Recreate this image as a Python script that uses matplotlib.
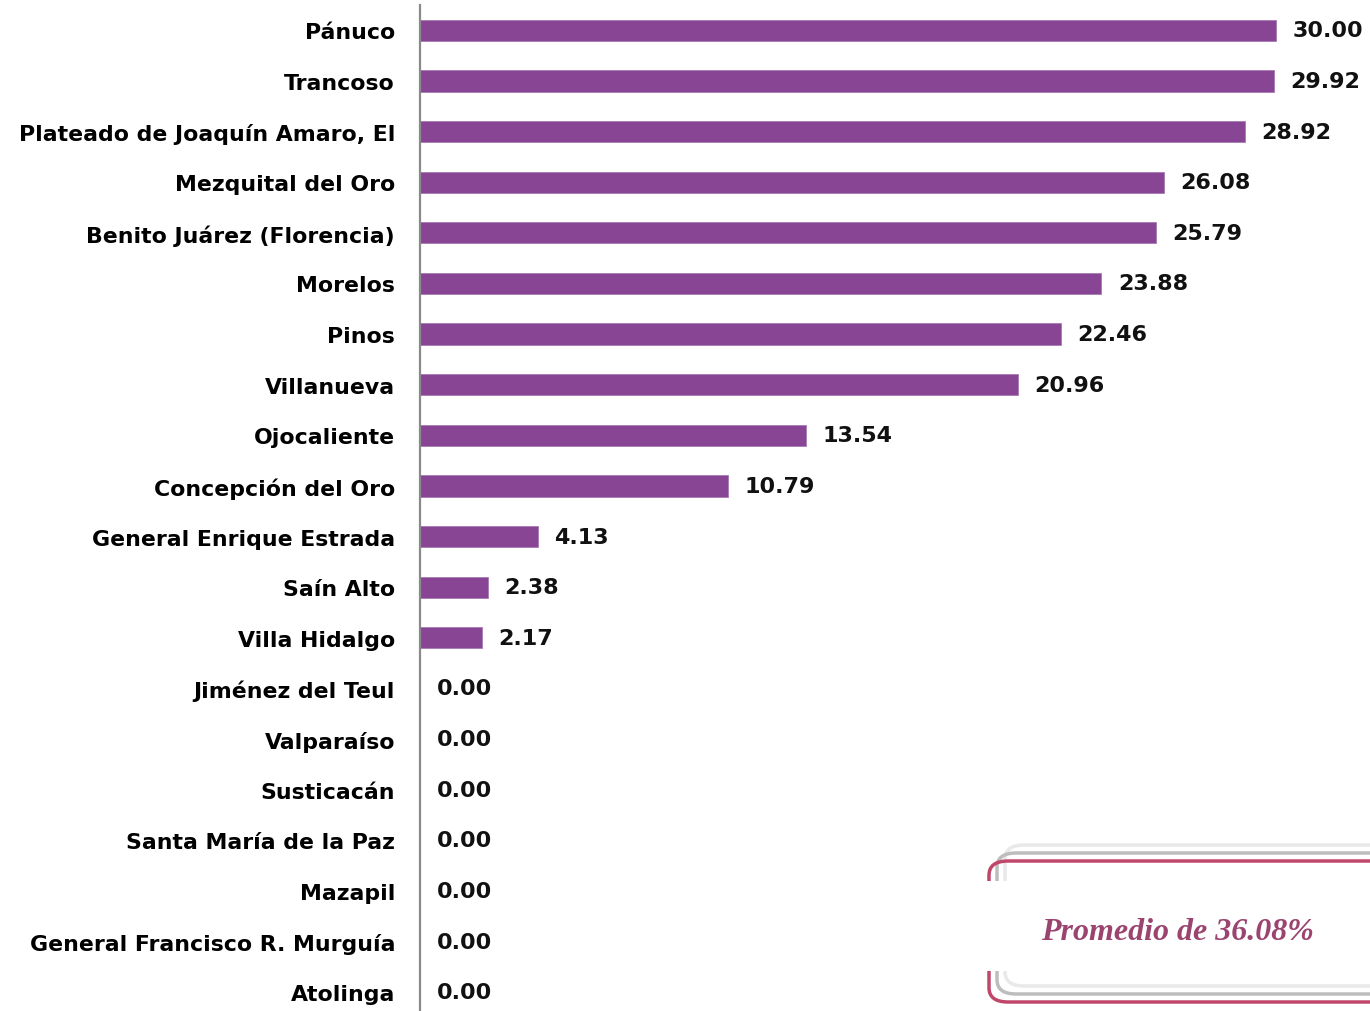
import matplotlib
matplotlib.use("Agg")
import matplotlib.pyplot as plt
from matplotlib.patches import FancyBboxPatch, Rectangle

# datos
municipios = ["Pánuco", "Trancoso", "Plateado de Joaquín Amaro, El", "Mezquital del Oro",
              "Benito Juárez (Florencia)", "Morelos", "Pinos", "Villanueva", "Ojocaliente",
              "Concepción del Oro", "General Enrique Estrada", "Saín Alto", "Villa Hidalgo",
              "Jiménez del Teul", "Valparaíso", "Susticacán", "Santa María de la Paz",
              "Mazapil", "General Francisco R. Murguía", "Atolinga"]
valores = [30.00, 29.92, 28.92, 26.08, 25.79, 23.88, 22.46, 20.96, 13.54, 10.79,
           4.13, 2.38, 2.17, 0.00, 0.00, 0.00, 0.00, 0.00, 0.00, 0.00]
promedio = "Promedio de 36.08%"

W, H = 1370, 1012
fig = plt.figure(figsize=(W / 100, H / 100), dpi=100)
ax = fig.add_axes([420 / W, 0, 1 - 420 / W, 1 - 6 / H])

pos = list(range(len(municipios)))
ax.barh(pos, valores, height=0.42, color="#874594", edgecolor="#A77AB3", linewidth=0.6)
ax.set_xlim(0, 33.3)
ax.set_ylim(len(municipios) - 0.63, -0.5)

for y, v in zip(pos, valores):
    ax.annotate(f"{v:.2f}", (v, y), xytext=(12, 0), textcoords="offset points",
                va="center", ha="left", fontsize=16, fontweight="bold",
                family="DejaVu Sans", color="#111111")

ax.set_yticks(pos)
ax.set_yticklabels(municipios, fontsize=15.8, fontweight="bold", family="DejaVu Sans")
ax.tick_params(axis="y", length=0, pad=18)
ax.set_xticks([])
for s in ["top", "right", "bottom"]:
    ax.spines[s].set_visible(False)
ax.spines["left"].set_color("#8A8A8A")
ax.spines["left"].set_linewidth(1.6)

# cuadro del promedio
def caja(x0, y0, x1, y1, color, lw):
    p = FancyBboxPatch((x0 / W, 1 - y1 / H), (x1 - x0) / W, (y1 - y0) / H,
                       boxstyle="round,pad=0,rounding_size=0.014",
                       transform=fig.transFigure, fill=False, edgecolor=color,
                       linewidth=lw, clip_on=False)
    fig.add_artist(p)

caja(1005, 846, 1400, 987, "#E9E9E9", 2.5)
caja(997, 854, 1400, 995, "#BDBDBD", 2.5)
caja(989, 862, 1400, 1003, "#C0466A", 2.5)
# el lado izquierdo queda abierto
fig.add_artist(Rectangle((984 / W, 1 - 972 / H), 26 / W, 90 / H, transform=fig.transFigure,
                         facecolor="white", edgecolor="none"))

fig.text(1177 / W, 1 - 933 / H, promedio, ha="center", va="center",
         family="Liberation Serif", fontsize=23, fontweight="bold", style="italic",
         color="#9B4470")

fig.savefig("out.png", dpi=100)
